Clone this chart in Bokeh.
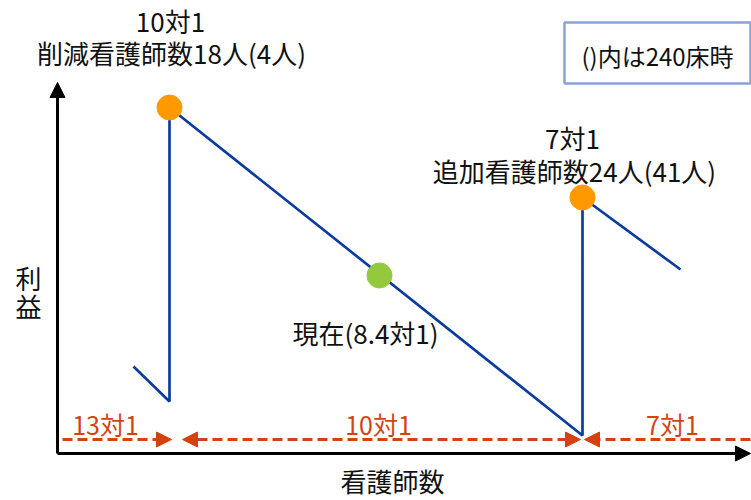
from bokeh.plotting import figure
from bokeh.models import Range1d, Arrow, NormalHead
from bokeh.core.properties import value
from bokeh.embed import file_html
from bokeh.resources import INLINE

# ---- data (conceptual units: x = nurse count, y = profit) ----
profit_x = [133, 169, 169, 582, 582, 680]
profit_y = [134, 99, 393, 65, 303, 231]
peak_x = [169, 582]
peak_y = [393, 303]
now_x = [379]
now_y = [225]

# ratio zones on the nurse axis (start, end)
zone_labels = ["13対1", "10対1", "7対1"]
zone_label_x = [105, 378, 672]
zone_bounds = [62, 171, 182, 580, 584, 750]

annot_texts = ["10対1", "削減看護師数18人(4人)", "7対1", "追加看護師数24人(41人)", "現在(8.4対1)"]
annot_x = [170, 171, 572, 574, 365]
annot_y = [480, 448, 363, 330, 168]

note_text = "()内は240床時"
x_title = "看護師数"
y_title_chars = ["利", "益"]
y_title_y = [223, 195]

FONT = value("Noto Sans CJK JP")
BLUE = "#0b3c9e"
RED = "#d4420f"
ORANGE = "#ff9900"
GREEN = "#94c83d"

p = figure(width=751, height=500, x_range=Range1d(0, 751), y_range=Range1d(0, 500),
           x_axis_type=None, y_axis_type=None, min_border=0,
           toolbar_location=None, output_backend="svg")
p.grid.visible = False
p.outline_line_color = None

# axes with arrowheads
ax0x, ax0y = 57, 47
p.add_layout(Arrow(x_start=ax0x, y_start=ax0y, x_end=ax0x, y_end=418,
                   line_color="black", line_width=3,
                   end=NormalHead(size=15, fill_color="black", line_color="black")))
p.add_layout(Arrow(x_start=ax0x, y_start=ax0y, x_end=750, y_end=ax0y,
                   line_color="black", line_width=3,
                   end=NormalHead(size=15, fill_color="black", line_color="black")))

# ratio zone arrows (dashed)
zy = 61
def head():
    return NormalHead(size=15, fill_color=RED, line_color=RED, line_width=1)
p.add_layout(Arrow(x_start=zone_bounds[0], y_start=zy, x_end=zone_bounds[1], y_end=zy,
                   line_color=RED, line_width=3, line_dash="10 5", end=head()))
p.add_layout(Arrow(x_start=zone_bounds[2], y_start=zy, x_end=zone_bounds[3], y_end=zy,
                   line_color=RED, line_width=3, line_dash="10 5", start=head(), end=head()))
p.add_layout(Arrow(x_start=zone_bounds[5], y_start=zy, x_end=zone_bounds[4], y_end=zy,
                   line_color=RED, line_width=3, line_dash="10 5", end=head()))
p.text(x=zone_label_x, y=[77] * 3, text=zone_labels, text_font=FONT, text_font_size="25px",
       text_color=RED, text_align="center", text_baseline="middle")

# profit line
p.line(profit_x, profit_y, line_color=BLUE, line_width=2.7)
p.scatter(peak_x, peak_y, size=25, fill_color=ORANGE, line_color=ORANGE)
p.scatter(now_x, now_y, size=25, fill_color=GREEN, line_color=GREEN)

# annotations
p.text(x=annot_x, y=annot_y, text=annot_texts, text_font=FONT, text_font_size="26px",
       text_color="#111111", text_align="center", text_baseline="middle")

# note box
p.quad(left=[564], right=[750], bottom=[417], top=[478], fill_color="white",
       line_color="#8aa3d4", line_width=2.5)
p.text(x=[657], y=[445], text=[note_text], text_font=FONT, text_font_size="24px",
       text_color="#111111", text_align="center", text_baseline="middle")

# axis titles
p.text(x=[392], y=[20], text=[x_title], text_font=FONT, text_font_size="26px",
       text_color="#111111", text_align="center", text_baseline="middle")
p.text(x=[28, 28], y=y_title_y, text=y_title_chars, text_font=FONT, text_font_size="26px",
       text_color="#111111", text_align="center", text_baseline="middle")

open("out.html", "w").write(file_html(p, INLINE))
